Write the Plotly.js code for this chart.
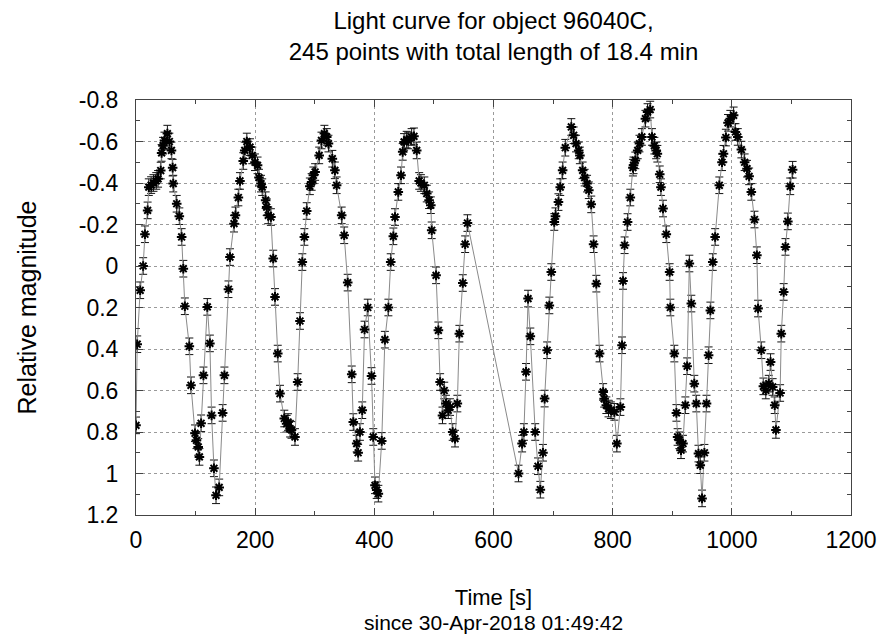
<!DOCTYPE html>
<html>
<head>
<meta charset="utf-8">
<script src="https://cdn.plot.ly/plotly-3.0.1.min.js"></script>
<style>html,body{margin:0;padding:0;background:#fff;}#chart{width:884px;height:638px;}</style>
</head>
<body>
<div id="chart"></div>
<script>
// Time since start [s]
const timeSec = [
0,2,7,12,15,19.5,21.5,25.4,29.3,34,37,41.5,43,45.4,47.8,52.7,56,59.5,61.5,62.5,
68.3,72.7,76.6,79.4,82,89.5,92.3,99,101.5,104.4,106.4,109.3,113.2,119.7,124,126.9,130.8,134.3,139.6,145.4,
148.4,155.2,157.7,164.5,166.9,171.8,174.5,180,182.5,186,191.3,195.2,199.7,204,206.4,209.8,211.8,217.6,219.3,222,
226.4,230.3,233.3,237.9,241.7,248.9,252.8,255.2,258.6,261,266.8,271.3,275.2,279.1,282.6,286.5,291.8,294.8,297.7,300.6,
307.4,311.3,316.2,320.1,323,329.5,333.8,336.7,345.2,349.4,355.3,362.1,364.7,370.4,372.8,375.8,379.7,383.6,389,395.3,
398.2,401.1,404,406.7,412.4,417.7,423.6,427.5,431.9,434.7,440.2,444.8,447.6,449.9,454.3,456.8,462.6,466.5,471.1,475.3,
478.2,483.9,488,491.9,494.8,496.3,503.6,507.5,510.4,514.4,517.3,520.2,524.1,527,531.5,535.4,539.3,542.7,548.5,552.4,556.3,
642,648,651,654.6,658,661.8,670,674.7,678.6,683,685.8,690,693.7,697,702,704,709,712,716,720.5,
730.6,734.5,738.5,743,745,749.6,753,757,760,764,768,772.6,778,784,785.7,789.4,793,797,802.8,807,
813,815.7,817.4,820,825,829.6,834,835,838,842,845,849,855,858.6,863,866,870,873,875,879,
881,884.5,890,895.6,896.8,903.5,907,909,912,914.7,918,922,925,928.7,932,937,940.4,944,947,950,
954,957.5,961,964,968,972,979,983.5,986,990,993.6,997.5,1003,1006,1010,1016,1021.5,1025.5,1029,1032.7,
1038,1042,1044,1049.5,1053,1057,1062,1065,1068.5,1072,1074,1081,1083,1087,1090,1094,1098,1102
];
// Relative magnitude
const relMag = [
0.768,0.377,0.117,0.0,-0.153,-0.268,-0.38,-0.39,-0.40,-0.41,-0.42,-0.46,-0.545,-0.58,-0.605,-0.638,-0.60,-0.557,-0.474,-0.397,
-0.30,-0.24,-0.14,0.013,0.194,0.387,0.575,0.806,0.84,0.872,0.92,0.758,0.527,0.197,0.373,0.72,0.975,1.105,1.067,0.708,
0.527,0.112,-0.043,-0.204,-0.244,-0.33,-0.41,-0.506,-0.557,-0.60,-0.573,-0.533,-0.50,-0.485,-0.426,-0.397,-0.38,-0.317,-0.284,-0.244,
-0.236,-0.036,0.149,0.422,0.615,0.735,0.76,0.752,0.784,0.79,0.824,0.559,0.265,-0.019,-0.14,-0.265,-0.384,-0.405,-0.437,-0.453,
-0.533,-0.605,-0.638,-0.622,-0.59,-0.517,-0.461,-0.389,-0.244,-0.148,0.08,0.522,0.752,0.856,0.90,0.80,0.695,0.306,0.20,0.53,
0.824,1.057,1.08,1.097,0.843,0.355,0.2,-0.019,-0.143,-0.236,-0.357,-0.437,-0.55,-0.598,-0.609,-0.605,-0.622,-0.625,-0.557,-0.41,
-0.40,-0.389,-0.349,-0.317,-0.293,-0.172,0.045,0.31,0.559,0.72,0.60,0.663,0.695,0.68,0.80,0.832,0.663,0.326,0.082,-0.105,-0.207,
1.0,0.856,0.80,0.51,0.157,0.339,0.80,0.965,1.078,0.90,0.639,0.406,0.19,0.029,-0.212,-0.24,-0.308,-0.38,-0.461,-0.57,
-0.67,-0.63,-0.59,-0.557,-0.533,-0.461,-0.426,-0.397,-0.365,-0.297,-0.105,0.085,0.422,0.607,0.64,0.671,0.687,0.695,0.703,0.856,
0.68,0.382,0.072,-0.10,-0.212,-0.33,-0.474,-0.485,-0.509,-0.557,-0.59,-0.622,-0.71,-0.742,-0.754,-0.622,-0.58,-0.557,-0.541,-0.442,
-0.38,-0.277,-0.153,0.029,0.20,0.422,0.708,0.824,0.84,0.888,0.856,0.671,0.483,-0.012,0.181,0.567,0.663,0.904,0.96,1.12,
0.90,0.663,0.43,0.214,-0.019,-0.14,-0.389,-0.50,-0.541,-0.619,-0.69,-0.71,-0.726,-0.646,-0.622,-0.561,-0.50,-0.469,-0.432,-0.357,
-0.224,-0.052,0.205,0.406,0.58,0.60,0.567,0.463,0.583,0.671,0.79,0.612,0.326,0.125,-0.092,-0.215,-0.384,-0.464
];
const magError = 0.04;

const xTickVals = [0,200,400,600,800,1000,1200];
const xTickText = ['0','200','400','600','800','1000','1200'];
const yTickVals = [-0.8,-0.6,-0.4,-0.2,0,0.2,0.4,0.6,0.8,1,1.2];
const yTickText = ['-0.8','-0.6','-0.4','-0.2','0','0.2','0.4','0.6','0.8','1','1.2'];

const FONT = 'Liberation Sans, Arial, Helvetica, sans-serif';
const axisCommon = {
  showline: true, linecolor: '#444', linewidth: 1, mirror: 'ticks',
  ticks: 'inside', ticklen: 7, tickcolor: '#444', tickwidth: 1,
  showgrid: true, gridcolor: '#9a9a9a', griddash: 'dot', gridwidth: 1,
  zeroline: false, tickfont: {family: FONT, size: 23, color: '#000'},
  tickmode: 'array', automargin: false
};

const trace = {
  x: timeSec, y: relMag, type: 'scatter', mode: 'lines+markers',
  line: {color: '#8a8a8a', width: 1},
  marker: {symbol: 'asterisk-open', size: 8, color: '#000', line: {color: '#000', width: 2}},
  error_y: {type: 'constant', value: magError, color: '#111', thickness: 1, width: 4},
  hoverinfo: 'x+y', showlegend: false
};

const layout = {
  width: 884, height: 638,
  margin: {l: 136, r: 33, t: 100, b: 123},
  paper_bgcolor: '#fff', plot_bgcolor: '#fff',
  font: {family: FONT, color: '#000'},
  title: {
    text: 'Light curve for object 96040C,<br>245 points with total length of 18.4 min',
    font: {family: FONT, size: 24, color: '#000'},
    x: 0.5, xref: 'paper', xanchor: 'center',
    y: 0.955, yref: 'container', yanchor: 'top'
  },
  xaxis: Object.assign({}, axisCommon, {
    range: [0, 1200], tickvals: xTickVals, ticktext: xTickText, ticklabelstandoff: 4,
    minor: {ticks: 'inside', ticklen: 4, dtick: 100, tick0: 0, tickcolor: '#444', showgrid: false},
    title: {text: 'Time [s]', font: {family: FONT, size: 22, color: '#000'}, standoff: 38}
  }),
  yaxis: Object.assign({}, axisCommon, {
    range: [1.2, -0.8], tickvals: yTickVals, ticktext: yTickText, ticklabelstandoff: 12,
    minor: {ticks: 'inside', ticklen: 4, dtick: 0.1, tick0: 0, tickcolor: '#444', showgrid: false},
    title: {text: 'Relative magnitude', font: {family: FONT, size: 25, color: '#000'}, standoff: 35}
  }),
  annotations: [{
    text: 'since 30-Apr-2018 01:49:42', showarrow: false,
    xref: 'paper', yref: 'paper', x: 0.5, xanchor: 'center',
    y: -(622 - 515) / 415, yanchor: 'middle',
    font: {family: FONT, size: 21, color: '#000'}
  }]
};

Plotly.newPlot('chart', [trace], layout, {displayModeBar: false, staticPlot: true});
</script>
</body>
</html>
